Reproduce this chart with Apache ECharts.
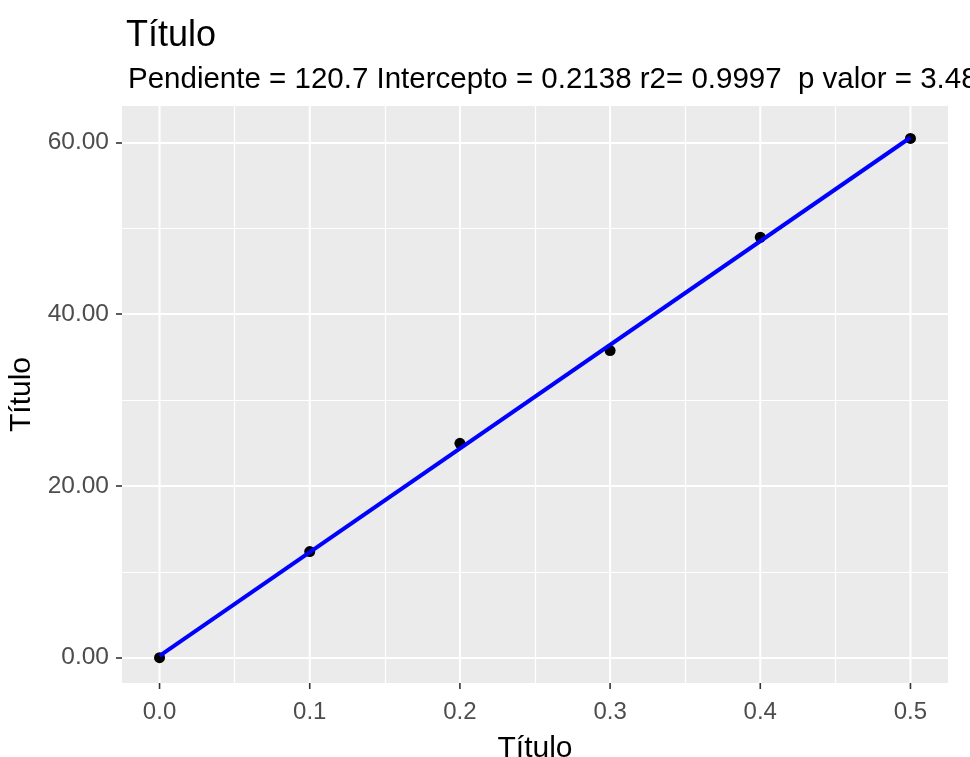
<!DOCTYPE html>
<html>
<head>
<meta charset="utf-8">
<script src="https://cdn.jsdelivr.net/npm/echarts@6/dist/echarts.min.js"></script>
<style>
  html, body { margin: 0; padding: 0; background: #ffffff; }
  #chart { width: 970px; height: 757px; }
</style>
</head>
<body>
<div id="chart"></div>
<script>
// Calibration points (concentration vs. response)
const xValues = [0, 0.1, 0.2, 0.3, 0.4, 0.5];
const yValues = [0, 12.35, 24.95, 35.75, 48.95, 60.45];

// Fitted linear model
const slope = 120.7;
const intercept = 0.2138;
const r2 = 0.9997;
const pValueText = '3.48';

// Axis breaks
const xTicks = [0, 0.1, 0.2, 0.3, 0.4, 0.5];
const xMinorTicks = [0.05, 0.15, 0.25, 0.35, 0.45];
const yTicks = [0, 20, 40, 60];
const yMinorTicks = [10, 30, 50];

const titleText = 'Título';
const subtitleText = 'Pendiente = ' + slope + ' Intercepto = ' + intercept +
  ' r2= ' + r2 + '  p valor = ' + pValueText;

const xRange = [-0.025, 0.525];
const yRange = [-2.95, 64.23];

const points = xValues.map((x, i) => [x, yValues[i]]);
const xFitEnds = [Math.min(...xValues), Math.max(...xValues)];
const fitLine = xFitEnds.map(x => [x, intercept + slope * x]);

const FONT = '"Liberation Sans", Arial, sans-serif';
const TICK_LEN = 6;

const chart = echarts.init(document.getElementById('chart'), null, { renderer: 'canvas' });

const hiddenAxisParts = {
  axisLine: { show: false, onZero: false },
  axisLabel: { show: false }
};

const tickStyle = { color: '#333333', width: 1.6 };

chart.setOption({
  backgroundColor: '#ffffff',
  animation: false,
  title: [
    {
      text: titleText,
      left: 121,
      top: 13,
      textStyle: { fontFamily: FONT, fontSize: 36, fontWeight: 'normal', color: '#000000', lineHeight: 36 }
    },
    {
      text: subtitleText,
      left: 123,
      top: 60,
      textStyle: { fontFamily: FONT, fontSize: 29.5, fontWeight: 'normal', color: '#000000', lineHeight: 30 }
    }
  ],
  grid: {
    left: 122,
    right: 22,
    top: 106,
    bottom: 74,
    show: true,
    backgroundColor: '#EBEBEB',
    borderWidth: 0,
    containLabel: false,
    outerBoundsMode: 'none'
  },
  xAxis: [
    {
      type: 'value',
      position: 'bottom',
      min: xRange[0],
      max: xRange[1],
      name: titleText,
      nameLocation: 'middle',
      nameGap: 51,
      nameTextStyle: { fontFamily: FONT, fontSize: 30, color: '#000000' },
      axisLine: { show: false, onZero: false },
      axisTick: { show: false },
      axisLabel: {
        customValues: xTicks,
        margin: 17,
        fontFamily: FONT,
        fontSize: 24,
        color: '#4D4D4D',
        formatter: v => v.toFixed(1)
      },
      splitLine: { show: false },
      z: 2
    },
    Object.assign({
      type: 'value',
      position: 'top',
      min: xRange[0],
      max: xRange[1],
      axisTick: { show: false, customValues: xMinorTicks },
      splitLine: { show: true, lineStyle: { color: '#FFFFFF', width: 1.2 } },
      z: 1
    }, hiddenAxisParts)
  ],
  yAxis: [
    {
      type: 'value',
      position: 'left',
      min: yRange[0],
      max: yRange[1],
      name: titleText,
      nameLocation: 'middle',
      nameGap: 82,
      nameRotate: 90,
      nameTextStyle: { fontFamily: FONT, fontSize: 30, color: '#000000' },
      axisLine: { show: false, onZero: false },
      axisTick: { show: true, customValues: yTicks, length: TICK_LEN, lineStyle: tickStyle },
      axisLabel: {
        customValues: yTicks,
        margin: 13,
        fontFamily: FONT,
        fontSize: 24.5,
        color: '#4D4D4D',
        formatter: v => v.toFixed(2)
      },
      splitLine: { show: true, lineStyle: { color: '#FFFFFF', width: 2 } },
      z: 2
    },
    Object.assign({
      type: 'value',
      position: 'right',
      min: yRange[0],
      max: yRange[1],
      axisTick: { show: false, customValues: yMinorTicks },
      splitLine: { show: true, lineStyle: { color: '#FFFFFF', width: 1.2 } },
      z: 1
    }, hiddenAxisParts)
  ],
  series: [
    {
      name: 'datos',
      type: 'scatter',
      xAxisIndex: 0,
      yAxisIndex: 0,
      data: points,
      symbol: 'circle',
      symbolSize: 11,
      itemStyle: { color: '#000000', opacity: 1 },
      z: 3
    },
    {
      name: 'ajuste',
      type: 'line',
      xAxisIndex: 0,
      yAxisIndex: 0,
      data: fitLine,
      showSymbol: false,
      symbol: 'none',
      lineStyle: { color: '#0000FF', width: 4 },
      z: 4
    }
  ]
});

// Major vertical grid lines and the tick marks below the panel,
// both placed through the x axis scale
const panelTop = chart.convertToPixel({ yAxisIndex: 0 }, yRange[1]);
const panelBottom = chart.convertToPixel({ yAxisIndex: 0 }, yRange[0]);
const xGraphics = [];
xTicks.forEach(v => {
  const px = chart.convertToPixel({ xAxisIndex: 0 }, v);
  xGraphics.push({
    type: 'rect',
    silent: true,
    z: 1,
    shape: { x: px - 1, y: panelTop, width: 2, height: panelBottom - panelTop },
    style: { fill: '#FFFFFF' }
  });
  xGraphics.push({
    type: 'rect',
    silent: true,
    z: 10,
    shape: { x: px - 0.8, y: panelBottom, width: 1.6, height: TICK_LEN },
    style: { fill: tickStyle.color }
  });
});
chart.setOption({ graphic: { elements: xGraphics } });
</script>
</body>
</html>
